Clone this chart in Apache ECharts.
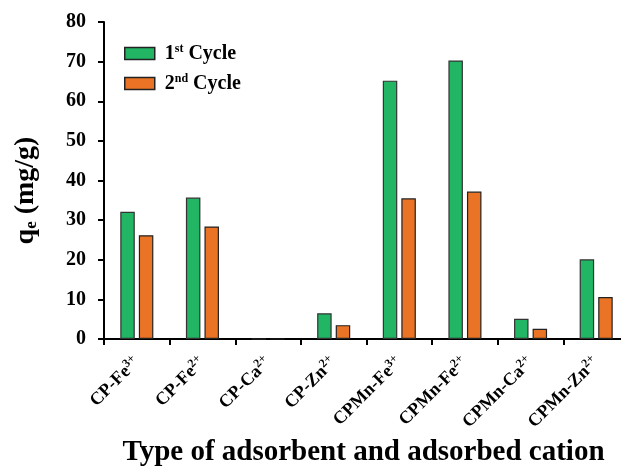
<!DOCTYPE html>
<html><head><meta charset="utf-8">
<script src="https://cdn.jsdelivr.net/npm/echarts@6/dist/echarts.min.js"></script>
<style>html,body{margin:0;padding:0;background:#fff}#c{width:621px;height:469px}</style>
</head><body><div id="c"></div>
<script>
const categories = ['CP-Fe{sup|3+}','CP-Fe{sup|2+}','CP-Ca{sup|2+}','CP-Zn{sup|2+}','CPMn-Fe{sup|3+}','CPMn-Fe{sup|2+}','CPMn-Ca{sup|2+}','CPMn-Zn{sup|2+}'];
const cycle1 = [32.1, 35.7, 0, 6.5, 65.2, 70.3, 5.1, 20.1];
const cycle2 = [26.2, 28.4, 0, 3.5, 35.5, 37.2, 2.6, 10.6];
const seriesNames = ['1st Cycle', '2nd Cycle'];
const legendLabels = {'1st Cycle': '1{sup|st} Cycle', '2nd Cycle': '2{sup|nd} Cycle'};
const yTicks = {min: 0, max: 80, interval: 10};

const font = 'Liberation Serif';
const chart = echarts.init(document.getElementById('c'));
chart.setOption({
  animation: false,
  backgroundColor: '#fff',
  grid: {left: 104, width: 525, top: 22, height: 317, containLabel: false, outerBoundsMode: 'none'},
  legend: {
    orient: 'vertical', left: 124, top: 43, padding: 0, itemWidth: 30, itemHeight: 12, itemGap: 9,
    icon: 'rect',
    data: seriesNames,
    formatter: n => legendLabels[n],
    itemStyle: {borderColor: '#222', borderWidth: 1.5},
    textStyle: {fontFamily: font, fontWeight: 'bold', fontSize: 20, lineHeight: 20, color: '#000', padding: [0,0,0,5],
      rich: {sup: {fontFamily: font, fontWeight: 'bold', fontSize: 12, color: '#000', lineHeight: 12, padding: [0,0,9,0]}}}
  },
  xAxis: {
    type: 'category', data: categories,
    axisLine: {lineStyle: {color: '#000', width: 2}},
    axisTick: {show: true, alignWithLabel: false, length: 6, lineStyle: {color: '#000', width: 2}},
    axisLabel: {
      rotate: 45, interval: 0, margin: 21,
      fontFamily: font, fontWeight: 'bold', fontSize: 18, color: '#000',
      rich: {sup: {fontFamily: font, fontWeight: 'bold', fontSize: 12, color: '#000', padding: [0,0,9,0]}}
    },
    name: 'Type of adsorbent and adsorbed cation', nameLocation: 'middle', nameGap: 95,
    nameTextStyle: {fontFamily: font, fontWeight: 'bold', fontSize: 29, color: '#000', padding: [0,6,0,0]}
  },
  yAxis: {
    type: 'value', min: yTicks.min, max: yTicks.max, interval: yTicks.interval,
    splitLine: {show: false},
    axisLine: {show: true, lineStyle: {color: '#000', width: 2}},
    axisTick: {show: true, length: 6, lineStyle: {color: '#000', width: 2}},
    axisLabel: {fontFamily: font, fontWeight: 'bold', fontSize: 20, color: '#000', margin: 18},
    name: 'q{sub|e} (mg/g)', nameLocation: 'middle', nameGap: 64,
    nameTextStyle: {fontFamily: font, fontWeight: 'bold', fontSize: 28, color: '#000', padding: [0,20,0,0],
      rich: {sub: {fontFamily: font, fontWeight: 'bold', fontSize: 17, color: '#000', padding: [12,0,0,0]}}}
  },
  series: [
    {name: seriesNames[0], type: 'bar', data: cycle1, barWidth: 14.5, barGap: '28%',
      itemStyle: {color: '#21B564', borderColor: '#333', borderWidth: 1.2}},
    {name: seriesNames[1], type: 'bar', data: cycle2, barWidth: 14.5, barGap: '28%',
      itemStyle: {color: '#EA7325', borderColor: '#222', borderWidth: 1.2}}
  ]
});
</script></body></html>
